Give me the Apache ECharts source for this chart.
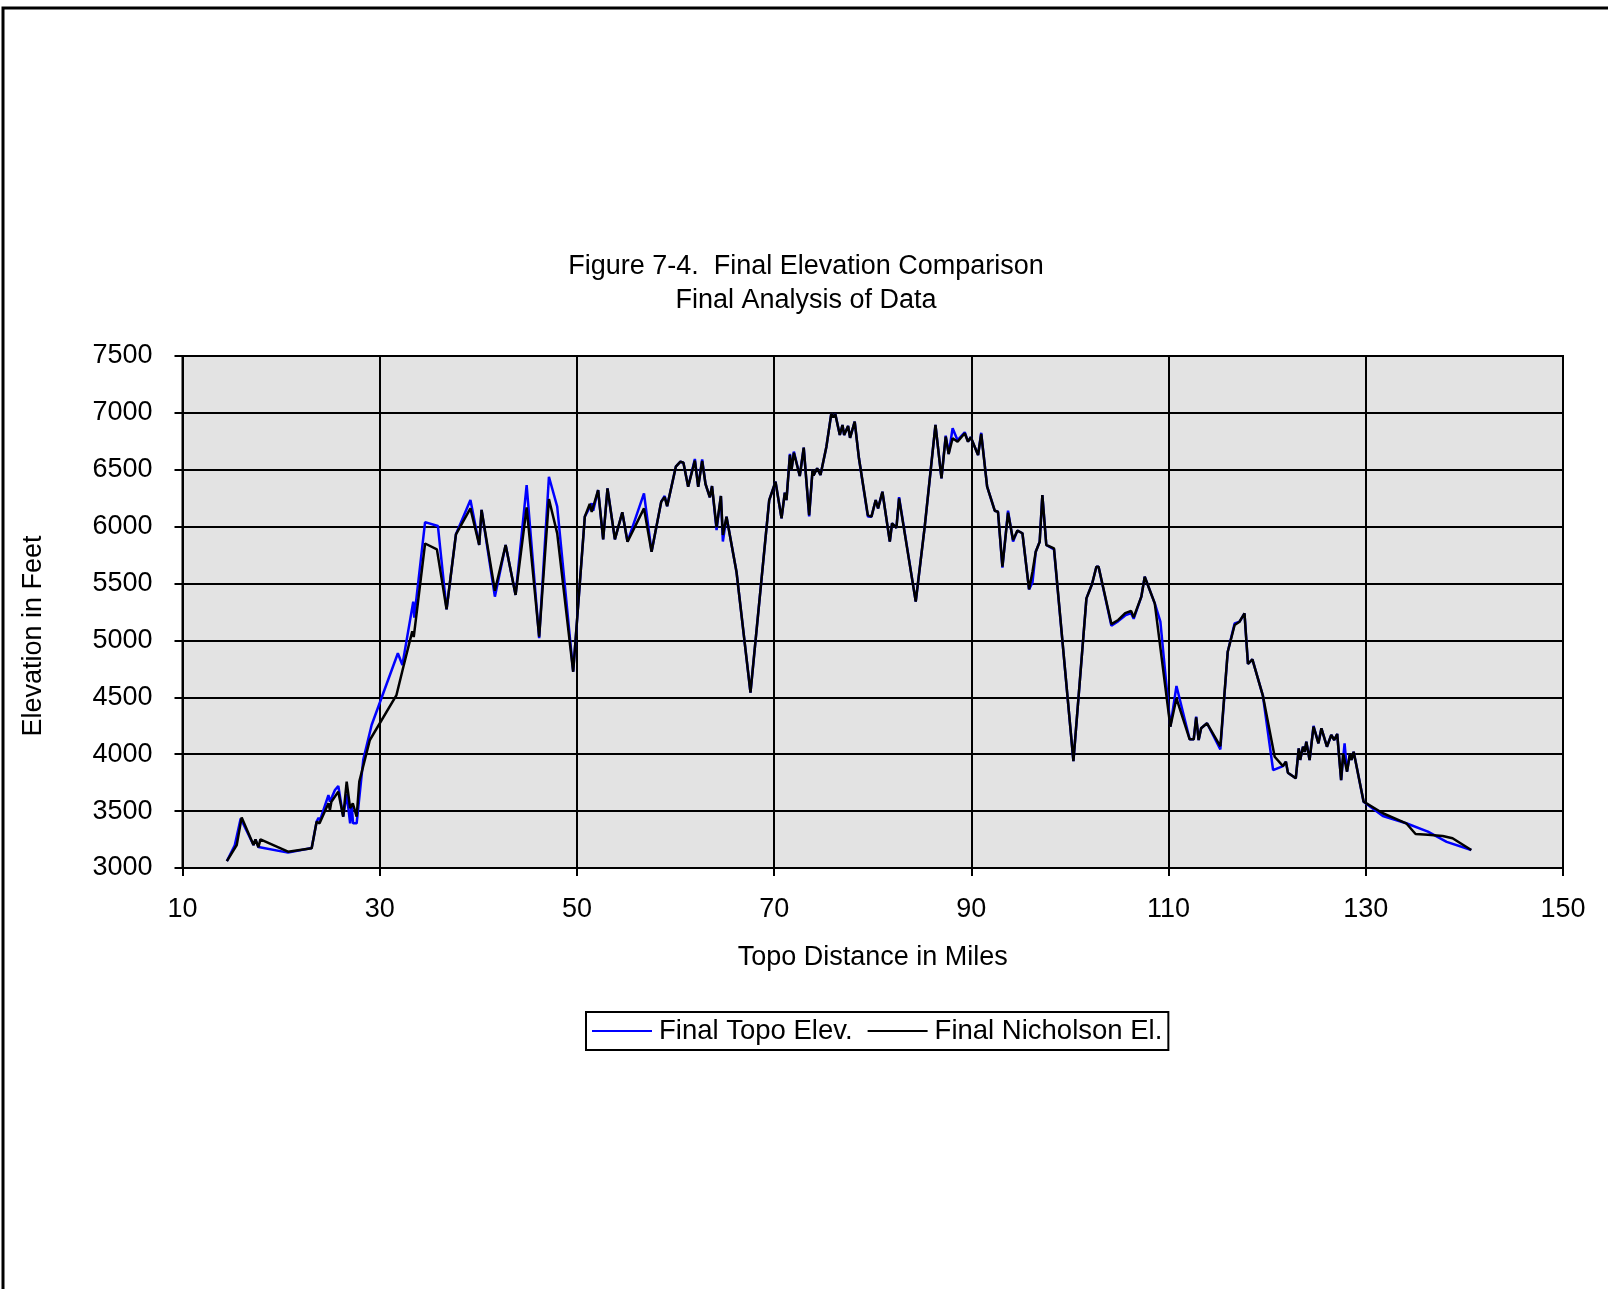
<!DOCTYPE html>
<html>
<head>
    <meta charset="utf-8">
    <script type="text/javascript" src="https://cdn.jsdelivr.net/npm/echarts@6/dist/echarts.min.js"></script>
    <title>Figure 7-4. Final Elevation Comparison</title>
    <style>
        html, body { margin: 0; padding: 0; background: #fff; }
    </style>
</head>
<body>
    <div id="container" style="width:1608px;height:1289px;"></div>
    <script type="text/javascript">
    // blue line: Final Topo Elev.
    var topoMiles = [14.5, 15.3, 15.9, 17.2, 17.4, 17.7, 20.7, 23.1, 23.6, 23.8, 23.95, 24.8, 24.95, 25.46, 25.8, 26.3, 26.65, 27.0, 27.15, 27.3,
        27.66, 28.33, 29.18, 31.84, 32.3, 33.4, 33.5, 34.6, 35.9, 36.78, 37.73, 39.2, 40.09, 40.33, 41.68, 42.77, 43.78, 44.9, 46.17, 47.16,
        48.0, 49.62, 50.8, 51.5, 51.65, 52.15, 52.66, 53.1, 53.85, 54.6, 55.13, 56.8, 57.57, 58.55, 58.9, 59.15, 60.03, 60.5, 60.8, 61.28,
        61.96, 62.3, 62.7, 63.04, 63.48, 63.7, 64.16, 64.6, 64.8, 65.17, 66.18, 67.6, 69.5, 70.14, 70.75, 71.08, 71.25, 71.6, 71.76, 72.0,
        72.6, 73.0, 73.55, 73.9, 74.0, 74.36, 74.7, 75.3, 75.8, 76.0, 76.2, 76.66, 76.93, 77.1, 77.5, 77.7, 78.17, 78.6, 79.5, 79.87,
        80.3, 80.54, 80.98, 81.73, 81.96, 82.4, 82.67, 84.36, 85.27, 86.36, 86.97, 87.4, 87.7, 88.1, 88.6, 89.33, 89.66, 89.94, 90.68, 91.0,
        91.6, 92.37, 92.7, 93.15, 93.72, 94.23, 94.67, 95.18, 95.85, 96.2, 96.53, 96.93, 97.2, 97.6, 98.38, 100.35, 101.67, 102.24, 102.68, 102.9,
        104.2, 104.9, 105.6, 106.2, 106.46, 107.24, 107.58, 108.6, 109.17, 110.18, 110.8, 112.14, 112.55, 112.8, 113.05, 113.3, 113.9, 115.25, 116.0, 116.7,
        117.2, 117.7, 118.05, 118.5, 119.57, 120.6, 121.6, 121.9, 122.1, 122.9, 123.2, 123.35, 123.63, 123.8, 123.97, 124.3, 124.7, 125.2, 125.5, 126.06,
        126.5, 126.8, 127.1, 127.5, 127.85, 128.1, 128.4, 128.55, 128.77, 129.78, 131.73, 134.1, 136.3, 138.2, 140.7];
    var topoElev = [3060, 3200, 3435, 3202, 3250, 3185, 3135, 3175, 3407, 3440, 3420, 3641, 3583, 3685, 3721, 3451, 3650, 3393, 3560, 3393,
        3393, 3950, 4257, 4887, 4784, 5341, 5200, 6040, 6006, 5273, 5933, 6234, 5839, 6147, 5385, 5839, 5400, 6366, 5020, 6439,
        6176, 4725, 6088, 6205, 6140, 6322, 5889, 6337, 5889, 6126, 5868, 6293, 5780, 6220, 6270, 6180, 6527, 6571, 6562, 6351,
        6595, 6351, 6590, 6375, 6258, 6357, 5970, 6270, 5870, 6088, 5604, 4541, 6234, 6395, 6073, 6298, 6234, 6640, 6498, 6660,
        6445, 6694, 6090, 6504, 6450, 6513, 6454, 6703, 6996, 6960, 6990, 6806, 6894, 6806, 6885, 6780, 6923, 6601, 6090, 6088,
        6234, 6161, 6307, 5868, 6030, 5990, 6260, 5341, 6000, 6894, 6425, 6800, 6639, 6865, 6760, 6830, 6747, 6786, 6630, 6825,
        6351, 6140, 6131, 5640, 6140, 5870, 5965, 5942, 5449, 5510, 5780, 5868, 6278, 5839, 5800, 3940, 5370, 5496, 5648, 5648,
        5130, 5170, 5220, 5240, 5190, 5385, 5560, 5326, 5165, 4242, 4600, 4131, 4131, 4330, 4125, 4228, 4272, 4043, 4901, 5150,
        5165, 5238, 4793, 4834, 4512, 3861, 3896, 3935, 3838, 3788, 4052, 3950, 4066, 4020, 4110, 3949, 4250, 4096, 4228, 4066,
        4169, 4125, 4178, 3773, 4096, 3847, 4008, 3950, 4022, 3583, 3457, 3393, 3320, 3230, 3158];

    // black line: Final Nicholson El.
    var nichMiles = [14.5, 15.5, 16.0, 17.2, 17.4, 17.7, 17.9, 20.7, 23.1, 23.6, 23.9, 24.8, 24.95, 25.1, 25.8, 26.3, 26.65, 27.0, 27.27, 27.66,
        27.93, 29.0, 31.7, 32.4, 33.3, 33.45, 34.6, 35.8, 36.78, 37.73, 39.2, 40.09, 40.33, 41.68, 42.77, 43.78, 44.9, 46.17, 47.16, 48.0,
        49.62, 50.8, 51.3, 51.5, 52.15, 52.66, 53.1, 53.85, 54.6, 55.13, 56.8, 57.57, 58.55, 58.9, 59.15, 60.03, 60.5, 60.8, 61.28, 61.96,
        62.3, 62.7, 63.04, 63.48, 63.7, 64.16, 64.6, 64.8, 65.17, 66.18, 67.6, 69.5, 70.14, 70.75, 71.08, 71.25, 71.6, 71.76, 72.0, 72.6,
        73.0, 73.55, 73.9, 74.0, 74.36, 74.7, 75.3, 75.8, 76.0, 76.2, 76.66, 76.93, 77.1, 77.5, 77.7, 78.17, 78.6, 79.5, 79.87, 80.3,
        80.54, 80.98, 81.73, 81.96, 82.4, 82.67, 84.36, 85.27, 86.36, 86.97, 87.4, 87.7, 88.1, 88.6, 89.33, 89.66, 89.94, 90.68, 91.0, 91.6,
        92.37, 92.7, 93.15, 93.72, 94.23, 94.67, 95.18, 95.85, 96.2, 96.53, 96.93, 97.2, 97.6, 98.38, 100.35, 101.67, 102.24, 102.68, 102.9, 104.2,
        104.9, 105.6, 106.2, 106.46, 107.24, 107.58, 108.6, 110.18, 110.8, 112.14, 112.55, 112.8, 113.05, 113.3, 113.9, 115.25, 116.0, 116.7, 117.2, 117.7,
        118.05, 118.5, 119.57, 120.76, 121.6, 121.9, 122.1, 122.9, 123.2, 123.35, 123.63, 123.8, 123.97, 124.3, 124.7, 125.2, 125.5, 126.06, 126.5, 126.8,
        127.1, 127.5, 127.7, 128.1, 128.4, 128.55, 128.77, 129.78, 131.73, 134.1, 135.05, 136.3, 137.8, 138.8, 140.7];
    var nichElev = [3060, 3202, 3445, 3202, 3252, 3182, 3252, 3143, 3173, 3407, 3393, 3569, 3510, 3583, 3671, 3451, 3759, 3525, 3569, 3451,
        3759, 4125, 4520, 4769, 5080, 5030, 5852, 5800, 5273, 5933, 6161, 5839, 6147, 5437, 5839, 5400, 6170, 5033, 6243, 5941,
        4725, 6088, 6200, 6130, 6322, 5889, 6337, 5889, 6126, 5868, 6161, 5780, 6220, 6260, 6180, 6527, 6571, 6562, 6351, 6580,
        6351, 6577, 6375, 6258, 6357, 5994, 6270, 5927, 6088, 5604, 4541, 6234, 6395, 6073, 6298, 6234, 6630, 6498, 6650, 6445,
        6694, 6102, 6504, 6450, 6513, 6454, 6703, 6996, 6960, 6990, 6806, 6894, 6806, 6885, 6780, 6923, 6601, 6102, 6088, 6234,
        6161, 6307, 5868, 6030, 5990, 6249, 5341, 6000, 6894, 6425, 6791, 6639, 6777, 6747, 6821, 6747, 6786, 6630, 6815, 6351,
        6140, 6131, 5648, 6123, 5883, 5965, 5942, 5449, 5604, 5780, 5868, 6278, 5839, 5810, 3940, 5370, 5496, 5648, 5648, 5144,
        5180, 5240, 5259, 5203, 5385, 5560, 5326, 4242, 4491, 4131, 4131, 4324, 4125, 4228, 4272, 4070, 4901, 5136, 5165, 5238,
        4793, 4834, 4512, 3978, 3896, 3935, 3838, 3788, 4052, 3950, 4066, 4020, 4110, 3949, 4242, 4096, 4228, 4066, 4169, 4125,
        4178, 3773, 4008, 3847, 4008, 3950, 4022, 3583, 3481, 3393, 3299, 3293, 3281, 3261, 3158];

    var xTicks = { min: 10, max: 150, step: 20 };
    var yTicks = { min: 3000, max: 7500, step: 500 };

    function pairs(xs, ys) {
        return xs.map(function (x, i) { return [x, ys[i]]; });
    }

    var font = "'Liberation Sans', Arial, sans-serif";
    var myChart = echarts.init(document.getElementById('container'));

    var option = {
        backgroundColor: '#fff',
        animation: false,
        title: {
            text: 'Figure 7-4.  Final Elevation Comparison\nFinal Analysis of Data',
            left: 801,
            top: 245,
            textAlign: 'center',
            textStyle: { fontFamily: font, fontSize: 27, fontWeight: 'normal', color: '#000', lineHeight: 34 }
        },
        graphic: [{
            type: 'rect',
            shape: { x: 3, y: 8, width: 1700, height: 1400 },
            style: { fill: 'none', stroke: '#000', lineWidth: 3 },
            silent: true
        }, {
            type: 'text',
            x: 34, y: 636,
            rotation: Math.PI / 2,
            style: {
                text: 'Elevation in Feet', fontFamily: font, fontSize: 27, fill: '#000',
                textAlign: 'center', textVerticalAlign: 'middle'
            }
        }],
        legend: {
            data: ['Final Topo Elev.', 'Final Nicholson El.'],
            left: 586,
            top: 1012,
            icon: 'rect',
            itemWidth: 60,
            itemHeight: 2,
            itemGap: 15,
            padding: [5, 6, 5, 6],
            borderColor: '#000',
            borderWidth: 2,
            textStyle: { fontFamily: font, fontSize: 27.5, color: '#000', padding: [0, 0, 0, 2] }
        },
        grid: {
            left: 182.5, right: 45, top: 356, bottom: 421,
            show: true,
            backgroundColor: '#e3e3e3',
            borderColor: '#000',
            borderWidth: 2
        },
        xAxis: {
            type: 'value',
            min: xTicks.min, max: xTicks.max, interval: xTicks.step,
            name: 'Topo Distance in Miles',
            nameLocation: 'middle',
            nameGap: 76,
            nameTextStyle: { fontFamily: font, fontSize: 27, color: '#000' },
            axisLine: { show: true, lineStyle: { color: '#000', width: 2 } },
            axisTick: { show: true, length: 8, lineStyle: { color: '#000', width: 2 } },
            axisLabel: { margin: 28, fontFamily: font, fontSize: 27, color: '#000' },
            splitLine: { show: true, lineStyle: { color: '#000', width: 2 } }
        },
        yAxis: {
            type: 'value',
            min: yTicks.min, max: yTicks.max, interval: yTicks.step,
            axisLine: { show: true, lineStyle: { color: '#000', width: 2 } },
            axisTick: { show: true, length: 8, lineStyle: { color: '#000', width: 2 } },
            axisLabel: {
                margin: 30, fontFamily: font, fontSize: 27, color: '#000',
                formatter: function (v) { return String(v); }
            },
            splitLine: { show: true, lineStyle: { color: '#000', width: 2 } }
        },
        series: [{
            name: 'Final Topo Elev.',
            type: 'line',
            data: pairs(topoMiles, topoElev),
            showSymbol: false,
            symbol: 'none',
            itemStyle: { color: '#0000ff' },
            lineStyle: { color: '#0000ff', width: 2.5 }
        }, {
            name: 'Final Nicholson El.',
            type: 'line',
            data: pairs(nichMiles, nichElev),
            showSymbol: false,
            symbol: 'none',
            itemStyle: { color: '#000' },
            lineStyle: { color: '#000', width: 2.5 }
        }]
    };

    myChart.setOption(option);
    </script>
</body>
</html>
